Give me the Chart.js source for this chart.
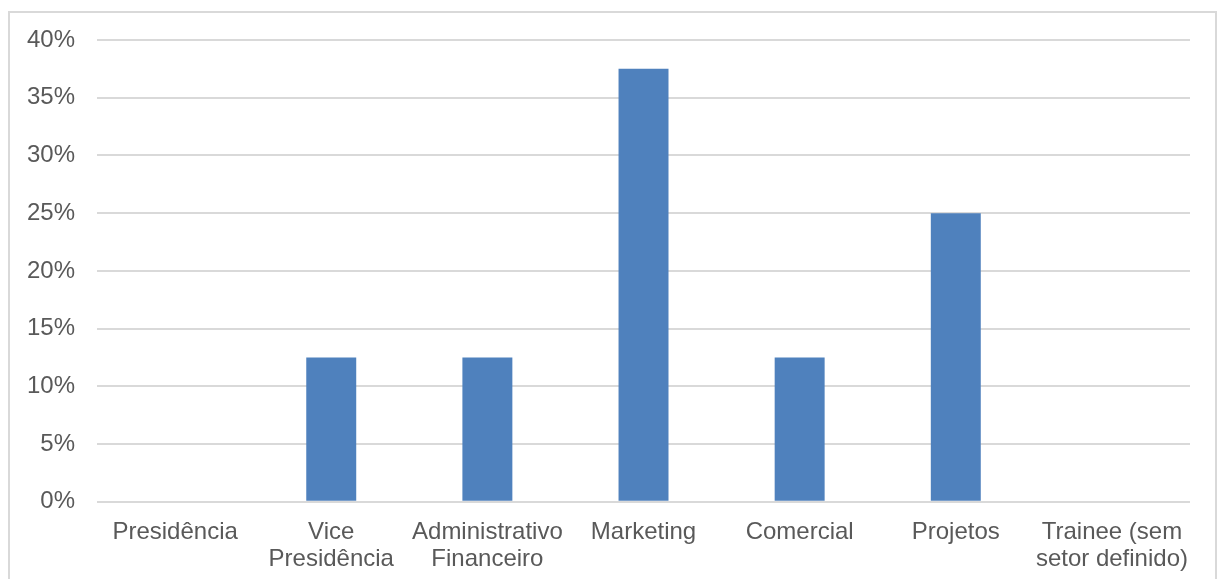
<!DOCTYPE html>
<html>
<head>
<meta charset="utf-8">
<script src="https://cdn.jsdelivr.net/npm/chart.js@4.4.1/dist/chart.umd.min.js"></script>
<style>
  html, body { margin: 0; padding: 0; background: #fff; }
  #wrap { position: relative; width: 1221px; height: 579px; overflow: hidden; }
  #frame { position: absolute; left: 8px; top: 11px; width: 1209px; height: 600px; border: 2px solid #d9d9d9; box-sizing: border-box; pointer-events: none; }
  canvas { position: absolute; left: 0; top: 0; }
</style>
</head>
<body>
<div id="wrap">
  <canvas id="chart-setores" width="1221" height="586"></canvas>
  <div id="frame"></div>
</div>
<script>
// Distribuição por setor
let setores = [
  'Presidência',
  ['Vice', 'Presidência'],
  ['Administrativo', 'Financeiro'],
  'Marketing',
  'Comercial',
  'Projetos',
  ['Trainee (sem', 'setor definido)']
];
let percentuais = [0, 0.125, 0.125, 0.375, 0.125, 0.25, 0];
let ticksY = [0, 0.05, 0.10, 0.15, 0.20, 0.25, 0.30, 0.35, 0.40];

let ctxSetores = document.getElementById('chart-setores').getContext('2d');

let chartSetores = new Chart(ctxSetores, {
  type: 'bar',
  data: {
    labels: setores,
    datasets: [{
      data: percentuais,
      backgroundColor: '#4f81bd',
      categoryPercentage: 1,
      barPercentage: 0.32
    }]
  },
  options: {
    responsive: false,
    animation: false,
    layout: { padding: { left: 5, right: 31, top: 40, bottom: 4 } },
    plugins: { legend: { display: false }, tooltip: { enabled: false } },
    scales: {
      x: {
        grid: { display: false },
        border: { display: false },
        ticks: {
          color: '#595959',
          font: { family: 'Liberation Sans, Arial', size: 24, lineHeight: 1.13 },
          padding: 9,
          maxRotation: 0,
          autoSkip: false
        }
      },
      y: {
        min: 0,
        max: 0.4,
        afterBuildTicks: axis => { axis.ticks = ticksY.map(v => ({ value: v })); },
        grid: { color: '#d9d9d9', lineWidth: 2, drawTicks: false },
        border: { display: false },
        ticks: {
          color: '#595959',
          font: { family: 'Liberation Sans, Arial', size: 24 },
          padding: 22,
          callback: v => Math.round(v * 100) + '%'
        }
      }
    }
  }
});
</script>
</body>
</html>
